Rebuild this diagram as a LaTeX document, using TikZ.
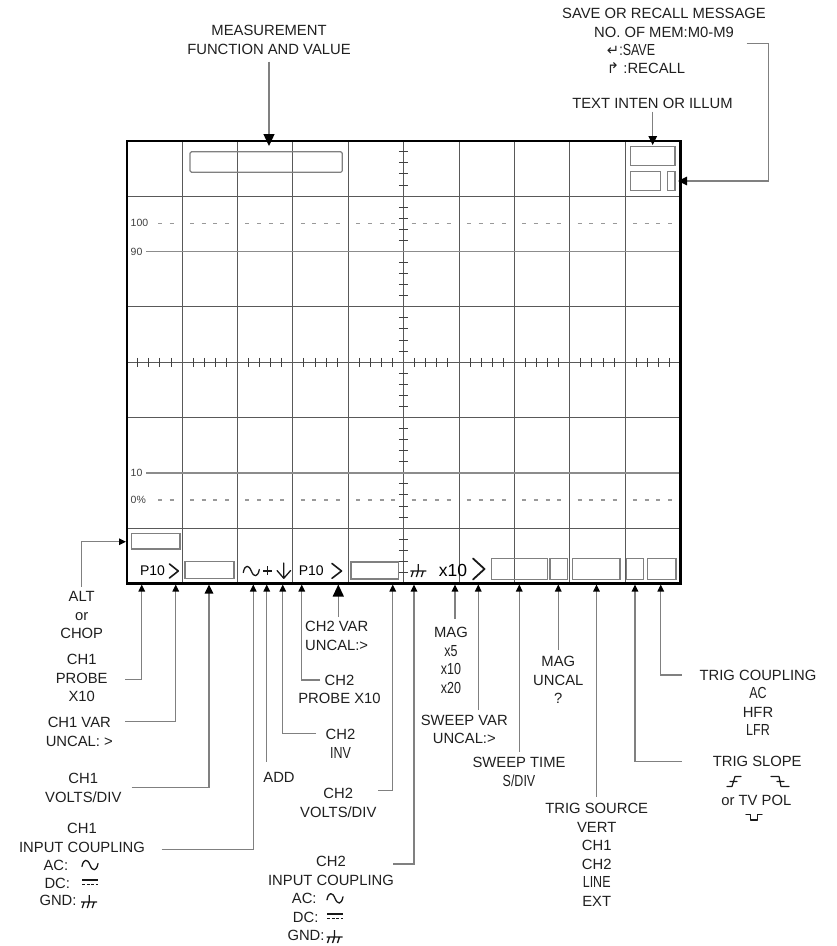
\documentclass[tikz,border=0pt]{standalone}
\usepackage{fontspec}
\setmainfont{Liberation Sans}
\newfontfamily\narrowfont[FakeStretch=0.78]{Liberation Sans}
\newfontfamily\symfont{DejaVu Sans}
\newcommand\narr[1]{{\narrowfont\fontsize{16}{18.5}\selectfont #1}}
\usetikzlibrary{arrows.meta}
\begin{document}
\begin{tikzpicture}[x=1pt,y=-1pt,
  lbl/.style={font=\fontsize{14.8}{18.5}\selectfont, align=center, inner sep=0pt, anchor=north, text=black!88},
  lblb/.style={font=\fontsize{14.8}{18.5}\selectfont, inner sep=0pt, text=black!88},
  conn/.style={draw=black!50, line width=1.3pt},
  tipS/.style={-{Triangle[length=7pt,width=6.5pt,color=black]}},
  tipM/.style={-{Triangle[length=9pt,width=8.5pt,color=black]}},
  tipL/.style={-{Triangle[length=12pt,width=11pt,color=black]}},
  gridl/.style={draw=black!65, line width=0.9pt},
  dotl/.style={draw=black!40, line width=1.1pt},
  tick/.style={draw=black!75, line width=0.9pt},
  boxs/.style={draw=black!50, line width=1.2pt},
  gl/.style={font=\fontsize{10.5}{10.5}\selectfont, inner sep=0pt, anchor=west, text=black!75},
  sym/.style={draw=black!90, line width=1.3pt, line cap=round, line join=round},
  acsym/.pic={\draw[sym] (-8,1.5) .. controls (-6.5,-6.5) and (-2.5,-6.5) .. (0,0) .. controls (2.5,6.5) and (6.5,6.5) .. (8,-1.5);},
  dcsym/.pic={\draw[sym,line cap=butt,line width=1.5pt] (-8,-2.5) -- (8,-2.5); \draw[sym,line cap=butt,line width=1.4pt,dash pattern=on 3pt off 1.6pt] (-8,2) -- (8,2);},
  gndsym/.pic={\draw[sym,line cap=butt] (0,-7) -- (0,0) (-8,0) -- (8,0) (-5,0) -- (-7,6) (0,0) -- (-2,6) (5,0) -- (3,6);},
]
\useasboundingbox (0,0) rectangle (837,946);

% ---------- screen grid ----------
\foreach \i in {1,...,9}
  \draw[gridl] ({126.7+55.38*\i},140.7) -- ({126.7+55.38*\i},583.5);
\foreach \j in {1,3,4,5,7}
  \draw[gridl] (126.7,{140.7+55.35*\j}) -- (680.5,{140.7+55.35*\j});
\draw[draw=black!45, line width=1.4pt] (146,251.4) -- (680.5,251.4);
\draw[draw=black!45, line width=1.4pt] (146,472.8) -- (680.5,472.8);
% dotted reference rows
\foreach \yy in {223.3,500}{
  \foreach \c in {0,...,9}{
    \foreach \o in {10,21.6,33.3,45}{
      \ifnum\c=0
        \pgfmathparse{\o>30?1:0}
        \ifnum\pgfmathresult=1
          \draw[dotl] ({126.7+55.38*\c+\o-2},\yy) -- ({126.7+55.38*\c+\o+2},\yy);
        \fi
      \else
        \draw[dotl] ({126.7+55.38*\c+\o-2},\yy) -- ({126.7+55.38*\c+\o+2},\yy);
      \fi
    }
  }
}
% centre axis ticks
\foreach \k in {1,...,49}{
  \pgfmathparse{mod(\k,5)==0?1:0}
  \ifnum\pgfmathresult=0
    \draw[tick] ({126.7+11.076*\k},357.8) -- ({126.7+11.076*\k},366.6);
  \fi
}
\foreach \k in {1,...,39}{
  \pgfmathparse{mod(\k,5)==0?1:0}
  \ifnum\pgfmathresult=0
    \draw[tick] (398.9,{140.7+11.07*\k}) -- (407.7,{140.7+11.07*\k});
  \fi
}
% border
\draw[line width=2.2pt] (126.7,140.7) rectangle (680.5,583.5);

% grid labels
\node[gl] (g100) at (130.5,223.3) {100};
\node[gl] (g90) at (130.5,251.7) {90};
\node[gl] (g10) at (130.5,472.7) {10};
\node[gl] (g0) at (130.5,500) {0\%};

% ---------- boxes in screen ----------
\draw[boxs, rounded corners=1.5pt] (190,151.7) rectangle (342.3,172.3);
\draw[boxs] (630.7,146.7) rectangle (675,165.7);
\draw[boxs] (630.7,171.7) rectangle (660.7,190.7);
\draw[boxs] (667.3,171.7) rectangle (675,190.7);
\draw[boxs] (131.7,533.3) rectangle (180,549);
\draw[boxs] (185,561.7) rectangle (234,578.3);
\draw[boxs] (351,562) rectangle (398.5,579);
\draw[boxs] (491.7,558.3) rectangle (547.7,579.3);
\draw[boxs] (550,558.3) rectangle (567.3,579.3);
\draw[boxs] (572.7,558.3) rectangle (620,579.3);
\draw[boxs] (626.7,558.3) rectangle (643.3,579.3);
\draw[boxs] (647.3,558.3) rectangle (676,579.3);

% ---------- screen bottom row symbols ----------
\node[font=\fontsize{14}{14}\selectfont, inner sep=0pt] (p10a) at (152.5,570.7) {P10};
\draw[sym, line width=1.6pt] (169.5,564) -- (178.3,571) -- (169.5,578);
\pic at (251.3,571) {acsym};
\draw[sym, line cap=butt, line width=1.5pt] (263.3,570.8) -- (271.7,570.8) (267.5,566.3) -- (267.5,575.3);
\draw[sym] (283.8,563) -- (283.8,578.3) (277,570.5) -- (283.8,578.3) -- (290.6,570.5);
\node[font=\fontsize{14}{14}\selectfont, inner sep=0pt] (p10b) at (311.3,570.7) {P10};
\draw[sym, line width=1.6pt] (332,563.5) -- (341.5,571) -- (332,578.3);
\pic at (418.3,571) {gndsym};
\node[font=\fontsize{17.5}{17.5}\selectfont, inner sep=0pt] (x10) at (453,570.2) {x10};
\draw[sym, line width=1.8pt] (473,558.5) -- (484.5,569) -- (473,579.5);

% ---------- top labels ----------
\node[lbl] (meas) at (269,25.4) {MEASUREMENT\\FUNCTION AND VALUE};
\node[lbl] (save) at (664,8.3) {SAVE OR RECALL MESSAGE\\NO. OF MEM:M0-M9};
\node[lblb, anchor=base west] (sv) at (606.7,55.3) {{\symfont ↵}\narr{:SAVE}};
\node[lblb, anchor=base west] (rc) at (606.7,73.6) {{\symfont ↱} :RECALL};
\node[lbl] (txt) at (652.5,97.9) {TEXT INTEN OR ILLUM};

\coordinate (tM) at (269,146);
\coordinate (sM) at (269,61.7);
\draw[conn, tipL] (sM) -- (tM);
\coordinate (tT) at (652.7,145);
\coordinate (sT) at (652.7,111.7);
\draw[conn, tipM] (sT) -- (tT);
\coordinate (sS) at (746.7,43.3);
\coordinate (tS) at (678,181);
\draw[conn, tipM] (sS) -- (768.3,43.3) |- (tS);

% ---------- bottom labels ----------
\node[lbl] (alt) at (81.7,591.4) {ALT\\or\\CHOP};
\node[lbl] (p1) at (81.7,654) {CH1\\PROBE\\X10};
\node[lbl] (v1) at (79.3,717.4) {CH1 VAR\\UNCAL: >};
\node[lbl] (vd1) at (83.3,773) {CH1\\VOLTS/DIV};
\node[lbl] (ic1) at (82,823) {CH1\\INPUT COUPLING};
\node[lblb, anchor=base west] (ac1) at (43.3,870.3) {AC:};
\node[lblb, anchor=base west] (dc1) at (44.3,888) {DC:};
\node[lblb, anchor=base west] (gn1) at (39.3,905.3) {GND:};
\pic at (90,865) {acsym};
\pic at (90,882.7) {dcsym};
\pic at (89.2,902) {gndsym};

\node[lbl] (add) at (279,772) {ADD};
\node[lbl] (inv) at (340.5,729) {CH2\\\narr{INV}};
\node[lbl] (p2) at (339.5,674.7) {CH2\\PROBE X10};
\node[lbl, align=left, anchor=north west] (v2) at (305,621.4) {CH2 VAR\\UNCAL:>};
\node[lbl] (vd2) at (338.3,788) {CH2\\VOLTS/DIV};
\node[lbl] (ic2) at (331,856.4) {CH2\\INPUT COUPLING};
\node[lblb, anchor=base west] (ac2) at (291.7,903.6) {AC:};
\node[lblb, anchor=base west] (dc2) at (292.7,922) {DC:};
\node[lblb, anchor=base west] (gn2) at (287.3,940.3) {GND:};
\pic at (335,898.3) {acsym};
\pic at (335,916.7) {dcsym};
\pic at (334.5,937) {gndsym};

\node[lbl] (mag) at (451,627.4) {MAG\\\narr{x5}\\\narr{x10}\\\narr{x20}};
\node[lbl] (swv) at (464.3,714.7) {SWEEP VAR\\UNCAL:>};
\node[lbl] (swt) at (519,757.4) {SWEEP TIME\\\narr{S/DIV}};
\node[lbl] (mgu) at (558.3,656.4) {MAG\\UNCAL\\?};
\node[lbl] (trs) at (596.7,803) {TRIG SOURCE\\VERT\\CH1\\CH2\\\narr{LINE}\\EXT};
\node[lbl] (trc) at (758,669.7) {TRIG COUPLING\\\narr{AC}\\HFR\\\narr{LFR}};
\node[lbl] (tsl) at (757.2,756.4) {TRIG SLOPE};
\node[lblb, anchor=base] (tvp) at (756.3,805.3) {or TV POL};
\draw[sym, line width=1.2pt] (727,786.5) -- (732,786.5) -- (735,776.5) -- (741,776.5) (730,781.5) -- (737,781.5);
\draw[sym, line width=1.2pt] (771,776.5) -- (779,776.5) -- (781,786.5) -- (789,786.5) (777,781.5) -- (784,781.5);
\draw[sym, line width=1.2pt] (746,814.5) -- (750.5,814.5) -- (750.5,820) -- (757.5,820) -- (757.5,814.5) -- (762,814.5);

% ---------- bottom connectors ----------
\coordinate (tA) at (126,541.7);
\coordinate (sA) at (81.7,586.7);
\draw[conn, tipS] (sA) |- (tA);

\coordinate (t1) at (141.7,584.5);  \coordinate (s1) at (125,679.3);
\coordinate (t2) at (175.7,584.5);  \coordinate (s2) at (125,721.7);
\coordinate (t3) at (209,584.5);    \coordinate (s3) at (131.7,787.7);
\coordinate (t4) at (253.3,584.5);  \coordinate (s4) at (161.7,849.3);
\coordinate (t5) at (266.7,584.5);  \coordinate (s5) at (266.7,761.7);
\coordinate (t6) at (282.7,584.5);  \coordinate (s6) at (316,733.3);
\coordinate (t7) at (301.7,584.5);  \coordinate (s7) at (320,680);
\coordinate (t8) at (338.3,584.5);  \coordinate (s8) at (338.3,617);
\coordinate (t9) at (392.7,584.5);  \coordinate (s9) at (378.3,790.7);
\coordinate (t10) at (414,584.5);   \coordinate (s10) at (393.3,864);
\coordinate (t11) at (455,584.5);   \coordinate (s11) at (455,619);
\coordinate (t12) at (478.3,584.5); \coordinate (s12) at (478.3,710);
\coordinate (t13) at (519.3,584.5); \coordinate (s13) at (519.3,751.7);
\coordinate (t14) at (558.3,584.5); \coordinate (s14) at (558.3,650);
\coordinate (t15) at (596.5,584.5); \coordinate (s15) at (596.5,796.7);
\coordinate (t16) at (635,584.5);   \coordinate (s16) at (681.7,761.7);
\coordinate (t17) at (660.7,584.5); \coordinate (s17) at (681.7,675);

\draw[conn, tipS] (s1) -| (t1);
\draw[conn, tipS] (s2) -| (t2);
\draw[conn, tipM] (s3) -| (t3);
\draw[conn, tipS] (s4) -| (t4);
\draw[conn, tipS] (s5) -- (t5);
\draw[conn, tipS] (s6) -| (t6);
\draw[conn, tipS] (s7) -| (t7);
\draw[conn, tipL] (s8) -- (t8);
\draw[conn, tipS] (s9) -| (t9);
\draw[conn, tipS] (s10) -| (t10);
\draw[conn, tipS] (s11) -- (t11);
\draw[conn, tipS] (s12) -- (t12);
\draw[conn, tipS] (s13) -- (t13);
\draw[conn, tipS] (s14) -- (t14);
\draw[conn, tipS] (s15) -- (t15);
\draw[conn, tipS] (s16) -| (t16);
\draw[conn, tipS] (s17) -| (t17);
\end{tikzpicture}
\end{document}
